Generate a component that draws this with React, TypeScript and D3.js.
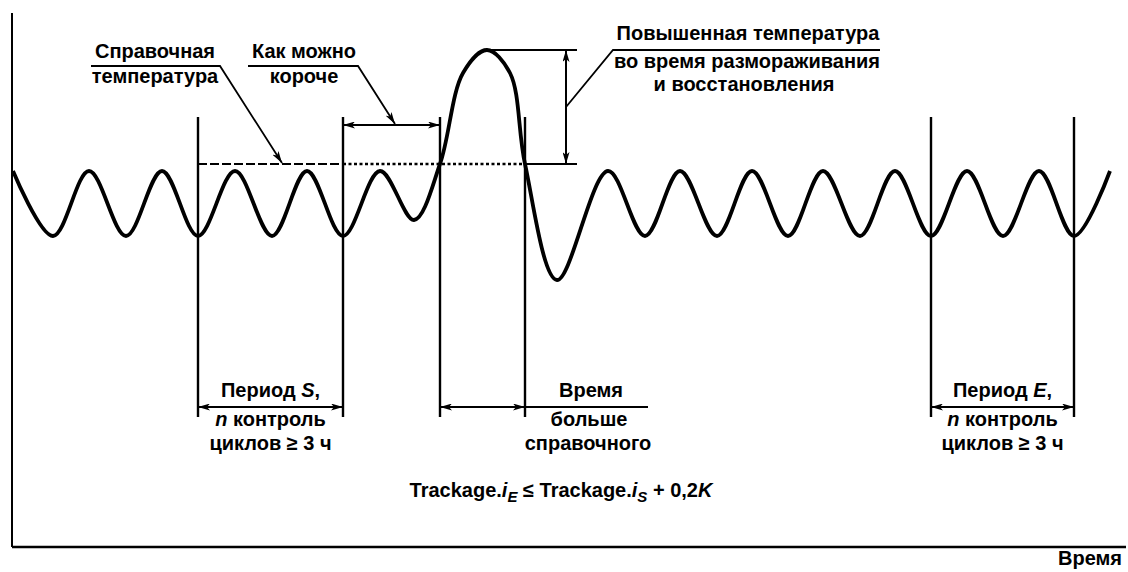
import * as d3 from "d3";

// wave extremes (time in arbitrary units, temperature in arbitrary units)
const waveTime = [1, 41, 77, 114, 150, 186, 223, 260, 295, 331, 368, 402, 428, 451, 475, 498, 513, 545, 596, 633, 668, 705, 740, 776, 811, 848, 883, 919, 955, 991, 1027, 1062, 1098];
const waveTemp = [75.2, 62.2, 75.2, 62.2, 75.2, 62.2, 75.2, 62.2, 75.2, 62.2, 75.2, 65.4, 76.6, 94.8, 99.4, 94.8, 76.6, 53.4, 75.2, 62.2, 75.2, 62.2, 75.2, 62.2, 75.2, 62.2, 75.2, 62.2, 75.2, 62.2, 75.2, 62.2, 75.2];

const refTemp = 76.6;
const peakTemp = 99.4;
// S start, S end, defrost start, defrost end, E start, E end
const markerTimes = [186, 331, 428, 513, 919, 1062];

const W = 1128;
const H = 572;
const FONT = "'Liberation Sans', Arial, sans-serif";

export default function App() {
  const x = d3.scaleLinear().domain([0, 1110]).range([12, 1122]);
  const y = d3.scaleLinear().domain([0, 106.8]).range([547, 13]);

  const wave = d3
    .line<number>()
    .x((_, i) => x(waveTime[i]))
    .y((d) => y(d))
    .curve(d3.curveCatmullRom.alpha(0.5))(waveTemp);

  const [sS, sE, dS, dE, eS, eE] = markerTimes.map((t) => x(t));
  const yRef = y(refTemp);
  const yPeak = y(peakTemp);
  const markTop = y(86);
  const markBot = y(26);
  const yPeriod = y(28);
  const yShort = y(84.4);
  const xRise = x(554);

  const txt = {
    fontFamily: FONT,
    fontSize: 20,
    fontWeight: 700,
    fill: "#000",
    textAnchor: "middle" as const,
  };

  return (
    <svg
      width={W}
      height={H}
      style={{ position: "absolute", left: 0, top: 0, background: "#fff" }}
    >
      <defs>
        <marker
          id="arr"
          viewBox="0 0 12 7"
          refX={12}
          refY={3.5}
          markerWidth={12}
          markerHeight={7}
          markerUnits="userSpaceOnUse"
          orient="auto-start-reverse"
        >
          <path d="M0,0 L12,3.5 L0,7 L3,3.5 z" fill="#000" />
        </marker>
      </defs>

      {/* axes */}
      <line x1={12} x2={12} y1={y(106.8)} y2={547} stroke="#000" strokeWidth={2} />
      <line x1={12} x2={1126} y1={547} y2={547} stroke="#000" strokeWidth={2.5} />
      <text {...txt} textAnchor="end" x={1122} y={565}>Время</text>

      {/* period markers */}
      {[sS, sE, dS, dE, eS, eE].map((mx, i) => (
        <line key={i} x1={mx} x2={mx} y1={markTop} y2={markBot} stroke="#000" strokeWidth={2.4} />
      ))}

      {/* reference temperature */}
      <line x1={sS} x2={sE} y1={yRef} y2={yRef} stroke="#000" strokeWidth={2.2} strokeDasharray="9 3" />
      <line x1={sE} x2={dE} y1={yRef} y2={yRef} stroke="#000" strokeWidth={2.4} strokeDasharray="3 2.5" />
      <line x1={dE} x2={x(565)} y1={yRef} y2={yRef} stroke="#000" strokeWidth={2} />
      <line x1={x(475)} x2={x(565)} y1={yPeak} y2={yPeak} stroke="#000" strokeWidth={2} />
      <line x1={xRise} x2={xRise} y1={yPeak} y2={yRef} stroke="#000" strokeWidth={2} markerStart="url(#arr)" markerEnd="url(#arr)" />

      {/* wave */}
      <path d={wave ?? ""} fill="none" stroke="#000" strokeWidth={3.8} strokeLinejoin="round" />

      {/* as short as possible */}
      <line x1={sE} x2={dS} y1={yShort} y2={yShort} stroke="#000" strokeWidth={2} markerStart="url(#arr)" markerEnd="url(#arr)" />

      {/* leaders */}
      <polyline points={`91,66 220,66 ${x(270)},${yRef - 1}`} fill="none" stroke="#000" strokeWidth={1.8} markerEnd="url(#arr)" />
      <polyline points={`248,66 358,66 ${x(383)},${yShort - 1}`} fill="none" stroke="#000" strokeWidth={1.8} markerEnd="url(#arr)" />
      <polyline points={`880,50 613,50 ${xRise},107`} fill="none" stroke="#000" strokeWidth={1.8} />

      <text {...txt} x={155} y={58}>Справочная</text>
      <text {...txt} x={155} y={83}>температура</text>
      <text {...txt} x={304} y={58}>Как можно</text>
      <text {...txt} x={304} y={83}>короче</text>
      <text {...txt} x={748} y={40}>Повышенная температура</text>
      <text {...txt} x={747} y={68}>во время размораживания</text>
      <text {...txt} x={744} y={91}>и восстановления</text>

      {/* periods */}
      <line x1={sS} x2={sE} y1={yPeriod} y2={yPeriod} stroke="#000" strokeWidth={2} markerStart="url(#arr)" markerEnd="url(#arr)" />
      <line x1={dS} x2={dE} y1={yPeriod} y2={yPeriod} stroke="#000" strokeWidth={2} markerStart="url(#arr)" markerEnd="url(#arr)" />
      <line x1={dE} x2={648} y1={yPeriod} y2={yPeriod} stroke="#000" strokeWidth={2} />
      <line x1={eS} x2={eE} y1={yPeriod} y2={yPeriod} stroke="#000" strokeWidth={2} markerStart="url(#arr)" markerEnd="url(#arr)" />

      <text {...txt} x={(sS + sE) / 2} y={397}>
        Период <tspan fontStyle="italic">S</tspan>,
      </text>
      <text {...txt} x={(sS + sE) / 2} y={426}>
        <tspan fontStyle="italic">n</tspan> контроль
      </text>
      <text {...txt} x={(sS + sE) / 2} y={450}>циклов ≥ 3 ч</text>

      <text {...txt} x={(eS + eE) / 2} y={397}>
        Период <tspan fontStyle="italic">E</tspan>,
      </text>
      <text {...txt} x={(eS + eE) / 2} y={426}>
        <tspan fontStyle="italic">n</tspan> контроль
      </text>
      <text {...txt} x={(eS + eE) / 2} y={450}>циклов ≥ 3 ч</text>

      <text {...txt} x={591} y={397}>Время</text>
      <text {...txt} x={589} y={426}>больше</text>
      <text {...txt} x={588} y={450}>справочного</text>

      <text {...txt} x={561} y={497}>
        Trackage.<tspan fontStyle="italic">i</tspan>
        <tspan fontStyle="italic" fontSize={15} dy={5}>E</tspan>
        <tspan dy={-5}> ≤ Trackage.</tspan>
        <tspan fontStyle="italic">i</tspan>
        <tspan fontStyle="italic" fontSize={15} dy={5}>S</tspan>
        <tspan dy={-5}> + 0,2</tspan>
        <tspan fontStyle="italic">K</tspan>
      </text>
    </svg>
  );
}
